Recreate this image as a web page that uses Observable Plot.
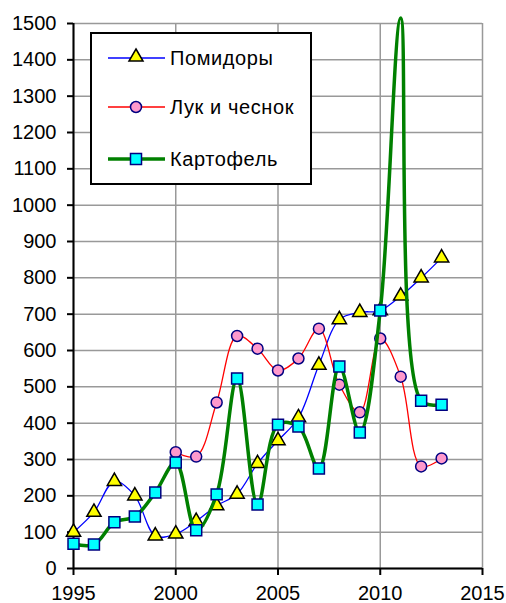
<!DOCTYPE html>
<html><head><meta charset="utf-8">
<script src="https://cdn.jsdelivr.net/npm/d3@7"></script>
<script src="https://cdn.jsdelivr.net/npm/@observablehq/plot@0.6"></script>
<style>
body{margin:0;background:#fff;}
#wrap{position:relative;width:506px;height:603px;}
#legend{position:absolute;left:90px;top:32px;width:218px;height:149px;border:2px solid #000;background:#fff;font-family:"Liberation Sans",Arial,sans-serif;font-size:20px;letter-spacing:0.6px;color:#000;}
.row{position:absolute;left:16px;height:24px;display:flex;align-items:center;}
.row svg{margin-right:5px;}
</style>
</head><body>
<div id="wrap"><div id="chart"></div>
<div id="legend"></div></div>
<script>
const years = [1995,1996,1997,1998,1999,2000,2001,2002,2003,2004,2005,2006,2007,2008,2009,2010,2011,2012,2013];
const tomatoes = [100,155,240,200,90,95,130,173,205,289,352,415,560,685,705,710,750,800,855];
const onion = [null,null,null,null,null,320,308,457,640,605,545,578,660,506,430,633,528,281,303];
const potatoes = [68,66,127,143,209,292,105,204,523,176,396,391,275,556,374,710,1515,462,451];
const seriesNames = ["Помидоры","Лук и чеснок","Картофель"];
const xTicks = [1995,2000,2005,2010,2015];
const yTicks = [0,100,200,300,400,500,600,700,800,900,1000,1100,1200,1300,1400,1500];

const tom = years.map((y,i)=>({year:y,v:tomatoes[i]}));
const oni = years.map((y,i)=>({year:y,v:onion[i]})).filter(d=>d.v!=null);
const pot = years.map((y,i)=>({year:y,v:potatoes[i]}));
const inRange = d => d.v <= 1500;

const font = '"Liberation Sans", Arial, sans-serif';
const plot = Plot.plot({
  width:506, height:603,
  marginLeft:73, marginRight:24, marginTop:23, marginBottom:35,
  style:{fontFamily:font, fontSize:"20px", color:"#000", background:"#fff"},
  x:{domain:[1995,2015]},
  y:{domain:[0,1500]},
  marks:[
    Plot.gridX(xTicks,{stroke:"#999",strokeOpacity:1,strokeWidth:1.5}),
    Plot.gridY(yTicks,{stroke:"#999",strokeOpacity:1,strokeWidth:1.5}),
    Plot.axisY(yTicks,{tickSize:6,tickPadding:11,strokeWidth:2,stroke:"#000",label:null,fontSize:20,tickFormat:d=>String(d)}),
    Plot.axisX(xTicks,{tickSize:7,tickPadding:10,strokeWidth:2,stroke:"#000",label:null,fontSize:20,tickFormat:d=>String(d)}),
    Plot.ruleX([1995],{stroke:"#000",strokeWidth:2}),
    Plot.ruleY([0],{stroke:"#000",strokeWidth:2}),
    Plot.line(tom,{x:"year",y:"v",stroke:"#0000ff",strokeWidth:1.3,curve:"catmull-rom"}),
    Plot.dot(tom,{x:"year",y:"v",symbol:"triangle",r:5.3,fill:"#ffff00",stroke:"#000",strokeWidth:1.5}),
    Plot.line(oni,{x:"year",y:"v",stroke:"#ff0000",strokeWidth:1.3,curve:"catmull-rom"}),
    Plot.dot(oni,{x:"year",y:"v",symbol:"circle",r:5.5,fill:"#ff99cc",stroke:"#000080",strokeWidth:1.5}),
    Plot.line(pot,{x:"year",y:"v",stroke:"#008000",strokeWidth:3.5,curve:"catmull-rom"}),
    Plot.dot(pot.filter(inRange),{x:"year",y:"v",symbol:"square",r:6.2,fill:"#00ffff",stroke:"#000080",strokeWidth:1.5})
  ]
});
document.getElementById("chart").appendChild(plot);

const leg = document.getElementById("legend");
const sty = [
  {c:"#0000ff",w:1.5,m:'<path d="M28,3 L35,15 L21,15 Z" fill="#ffff00" stroke="#000" stroke-width="1.5"/>'},
  {c:"#ff0000",w:1.5,m:'<circle cx="28" cy="12" r="5.5" fill="#ff99cc" stroke="#000080" stroke-width="1.5"/>'},
  {c:"#008000",w:3.5,m:'<rect x="22.5" y="6.5" width="11" height="11" fill="#00ffff" stroke="#000080" stroke-width="1.5"/>'}
];
const tops = [12,61,113];
seriesNames.forEach((n,i)=>{
  const r = document.createElement("div");
  r.className="row"; r.style.top = tops[i]+"px";
  r.innerHTML = `<svg width="57" height="24"><line x1="0" x2="57" y1="12" y2="12" stroke="${sty[i].c}" stroke-width="${sty[i].w}"/>${sty[i].m}</svg><span>${n}</span>`;
  leg.appendChild(r);
});
</script>
</body></html>
